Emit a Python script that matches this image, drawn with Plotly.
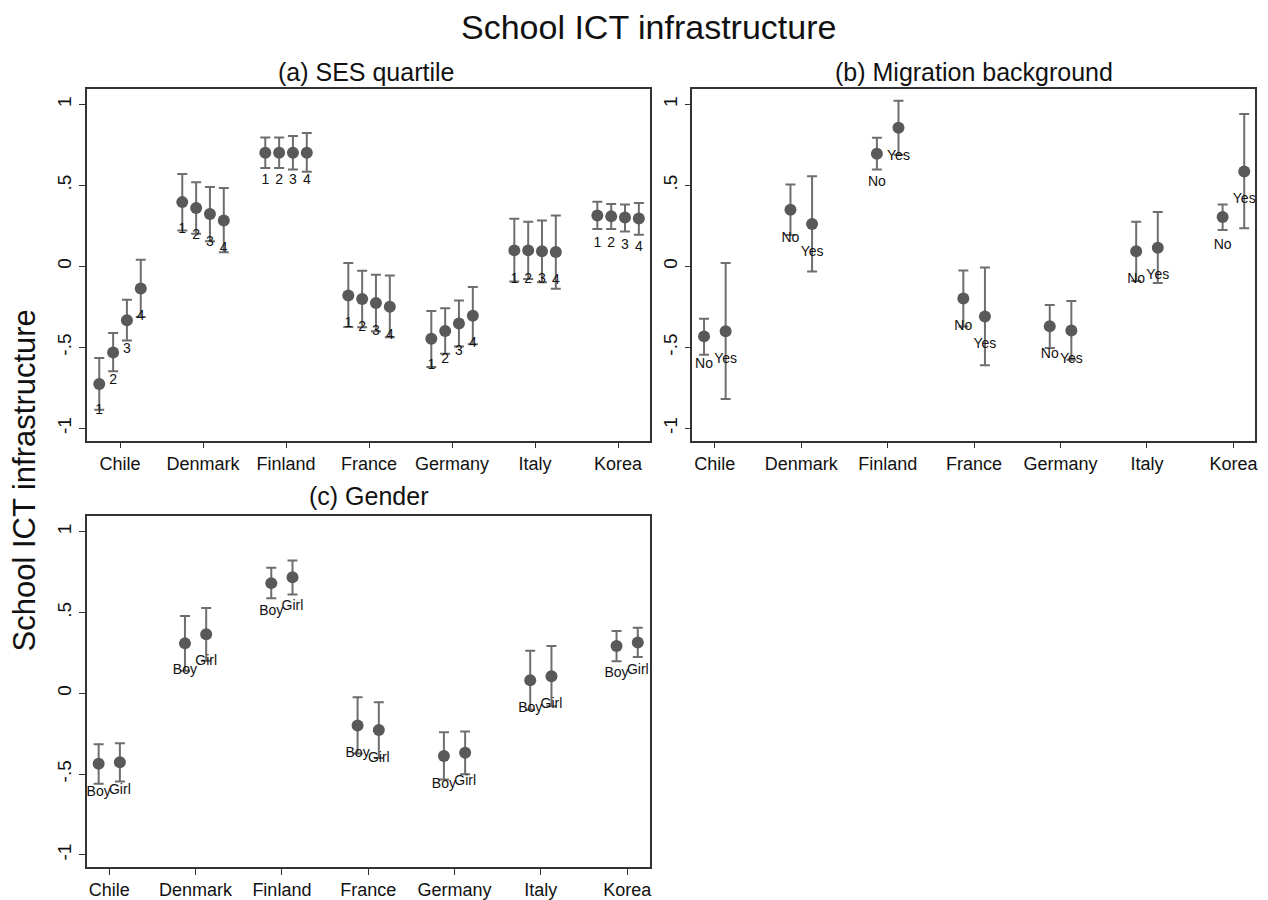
import plotly.graph_objects as go

countries = ["Chile", "Denmark", "Finland", "France", "Germany", "Italy", "Korea"]
y_tick_vals = [-1, -0.5, 0, 0.5, 1]
y_tick_text = ["-1", "-.5", "0", ".5", "1"]

# ---------------- (a) SES quartile ----------------
ses_labels = ["1", "2", "3", "4"]
ses_mean = {
    "1": [-0.726, 0.397, 0.702, -0.179, -0.446, 0.099, 0.315],
    "2": [-0.531, 0.360, 0.702, -0.201, -0.399, 0.099, 0.309],
    "3": [-0.333, 0.323, 0.702, -0.226, -0.352, 0.093, 0.302],
    "4": [-0.136, 0.284, 0.702, -0.249, -0.304, 0.089, 0.296],
}
ses_upper = {
    "1": [-0.566, 0.570, 0.796, 0.021, -0.276, 0.294, 0.399],
    "2": [-0.411, 0.519, 0.796, -0.027, -0.259, 0.276, 0.385],
    "3": [-0.206, 0.490, 0.805, -0.051, -0.210, 0.284, 0.383],
    "4": [0.041, 0.484, 0.823, -0.056, -0.127, 0.315, 0.391],
}
ses_lower = {
    "1": [-0.885, 0.222, 0.607, -0.374, -0.621, -0.093, 0.231],
    "2": [-0.648, 0.201, 0.607, -0.376, -0.539, -0.078, 0.231],
    "3": [-0.457, 0.156, 0.599, -0.401, -0.494, -0.098, 0.216],
    "4": [-0.313, 0.088, 0.585, -0.438, -0.481, -0.138, 0.196],
}
ses_label_y = {
    "1": [-0.890, 0.225, 0.531, -0.354, -0.613, -0.078, 0.140],
    "2": [-0.705, 0.190, 0.531, -0.376, -0.576, -0.082, 0.140],
    "3": [-0.510, 0.148, 0.531, -0.400, -0.525, -0.082, 0.130],
    "4": [-0.310, 0.113, 0.531, -0.428, -0.477, -0.088, 0.117],
}

# ---------------- (b) Migration background ----------------
mig_labels = ["No", "Yes"]
mig_mean = {
    "No": [-0.432, 0.350, 0.696, -0.198, -0.370, 0.093, 0.305],
    "Yes": [-0.401, 0.262, 0.856, -0.309, -0.395, 0.115, 0.586],
}
mig_upper = {
    "No": [-0.323, 0.506, 0.794, -0.025, -0.238, 0.276, 0.383],
    "Yes": [0.021, 0.556, 1.023, -0.006, -0.214, 0.336, 0.941],
}
mig_lower = {
    "No": [-0.545, 0.194, 0.599, -0.371, -0.504, -0.090, 0.225],
    "Yes": [-0.819, -0.031, 0.689, -0.611, -0.576, -0.103, 0.235],
}
mig_label_y = {
    "No": [-0.607, 0.175, 0.521, -0.370, -0.545, -0.082, 0.128],
    "Yes": [-0.576, 0.086, 0.679, -0.483, -0.572, -0.057, 0.412],
}

# ---------------- (c) Gender ----------------
gen_labels = ["Boy", "Girl"]
gen_mean = {
    "Boy": [-0.436, 0.310, 0.683, -0.198, -0.387, 0.082, 0.294],
    "Girl": [-0.426, 0.366, 0.720, -0.227, -0.368, 0.107, 0.315],
}
gen_upper = {
    "Boy": [-0.315, 0.479, 0.778, -0.023, -0.241, 0.265, 0.386],
    "Girl": [-0.309, 0.529, 0.823, -0.054, -0.235, 0.294, 0.407],
}
gen_lower = {
    "Boy": [-0.560, 0.141, 0.590, -0.372, -0.533, -0.101, 0.200],
    "Girl": [-0.545, 0.203, 0.613, -0.400, -0.500, -0.080, 0.226],
}
gen_label_y = {
    "Boy": [-0.611, 0.140, 0.510, -0.375, -0.564, -0.093, 0.125],
    "Girl": [-0.600, 0.195, 0.541, -0.400, -0.545, -0.066, 0.140],
}

# ---------------- styling ----------------
FONT = "Liberation Sans, Arial, Helvetica, sans-serif"
MARKER_COLOR = "#595959"
BAR_COLOR = "#6e6e6e"
FRAME_COLOR = "#333333"
PAGE_OFF = 8          # default body margin of the html page
W, H = 1268 - PAGE_OFF, 900 - PAGE_OFF

fig = go.Figure()


def add_panel(labels, mean, upper, lower, label_y, offsets, xaxis, yaxis):
    for lab, off in zip(labels, offsets):
        xs = [i + 1 + off for i in range(len(countries))]
        m = mean[lab]
        plus = [u - v for u, v in zip(upper[lab], m)]
        minus = [v - l for v, l in zip(m, lower[lab])]
        fig.add_trace(go.Scatter(
            x=xs, y=m, mode="markers", xaxis=xaxis, yaxis=yaxis,
            marker=dict(size=12, color=MARKER_COLOR),
            error_y=dict(type="data", symmetric=False, array=plus, arrayminus=minus,
                         color=BAR_COLOR, thickness=2, width=5),
            showlegend=False, hoverinfo="skip",
        ))
        fig.add_trace(go.Scatter(
            x=xs, y=label_y[lab], mode="text", text=[lab] * len(xs),
            textposition="middle center", xaxis=xaxis, yaxis=yaxis,
            textfont=dict(family=FONT, size=14, color="#111111"),
            showlegend=False, hoverinfo="skip",
        ))


add_panel(ses_labels, ses_mean, ses_upper, ses_lower, ses_label_y,
          [-0.25, -0.083, 0.083, 0.25], "x", "y")
add_panel(mig_labels, mig_mean, mig_upper, mig_lower, mig_label_y,
          [-0.125, 0.125], "x2", "y2")
add_panel(gen_labels, gen_mean, gen_upper, gen_lower, gen_label_y,
          [-0.123, 0.123], "x3", "y3")


def px(v):
    return (v - PAGE_OFF) / W


def py(v):
    return 1 - (v - PAGE_OFF) / H


def xdom(a, b):
    return [px(a), px(b)]


def ydom(top, bottom):
    return [py(bottom), py(top)]


axis_common = dict(showline=True, linecolor=FRAME_COLOR, linewidth=1.5, mirror=True,
                   showgrid=False, zeroline=False, ticks="outside", ticklen=6,
                   tickwidth=1.3, tickcolor=FRAME_COLOR)

yrange = [-1.075, 1.096]
xaxis_cfg = dict(tickmode="array", tickvals=list(range(1, 8)), ticktext=countries,
                 tickfont=dict(family=FONT, size=18, color="#111111"), **axis_common)
yaxis_cfg = dict(tickmode="array", tickvals=y_tick_vals, ticktext=y_tick_text, tickangle=-90,
                 range=yrange, tickfont=dict(family=FONT, size=19, color="#111111"), **axis_common)

fig.update_layout(
    width=W, height=H,
    margin=dict(l=0, r=0, t=0, b=0),
    paper_bgcolor="white", plot_bgcolor="white",
    xaxis=dict(domain=xdom(87, 652), range=[0.6, 7.39], anchor="y", **xaxis_cfg),
    yaxis=dict(domain=ydom(89, 441), anchor="x", **yaxis_cfg),
    xaxis2=dict(domain=xdom(694, 1258), range=[0.74, 7.25], anchor="y2", **xaxis_cfg),
    yaxis2=dict(domain=ydom(89, 441), anchor="x2", **yaxis_cfg),
    xaxis3=dict(domain=xdom(87, 652), range=[0.74, 7.27], anchor="y3", **xaxis_cfg),
    yaxis3=dict(domain=ydom(517, 868), anchor="x3", **yaxis_cfg),
    font=dict(family=FONT, color="#111111"),
)

annots = [
    dict(text="School ICT infrastructure", x=650, y=27, size=34, angle=0),
    dict(text="(a) SES quartile", x=367, y=72, size=25, angle=0),
    dict(text="(b) Migration background", x=976, y=72, size=25, angle=0),
    dict(text="(c) Gender", x=369, y=497, size=25, angle=0),
    dict(text="School ICT infrastructure", x=25, y=481, size=31, angle=-90),
]
for a in annots:
    fig.add_annotation(text=a["text"], x=px(a["x"]), y=py(a["y"]), xref="paper", yref="paper",
                       xanchor="center", yanchor="middle", showarrow=False,
                       textangle=a["angle"], font=dict(family=FONT, size=a["size"], color="#111111"))

fig.write_html("out.html")
